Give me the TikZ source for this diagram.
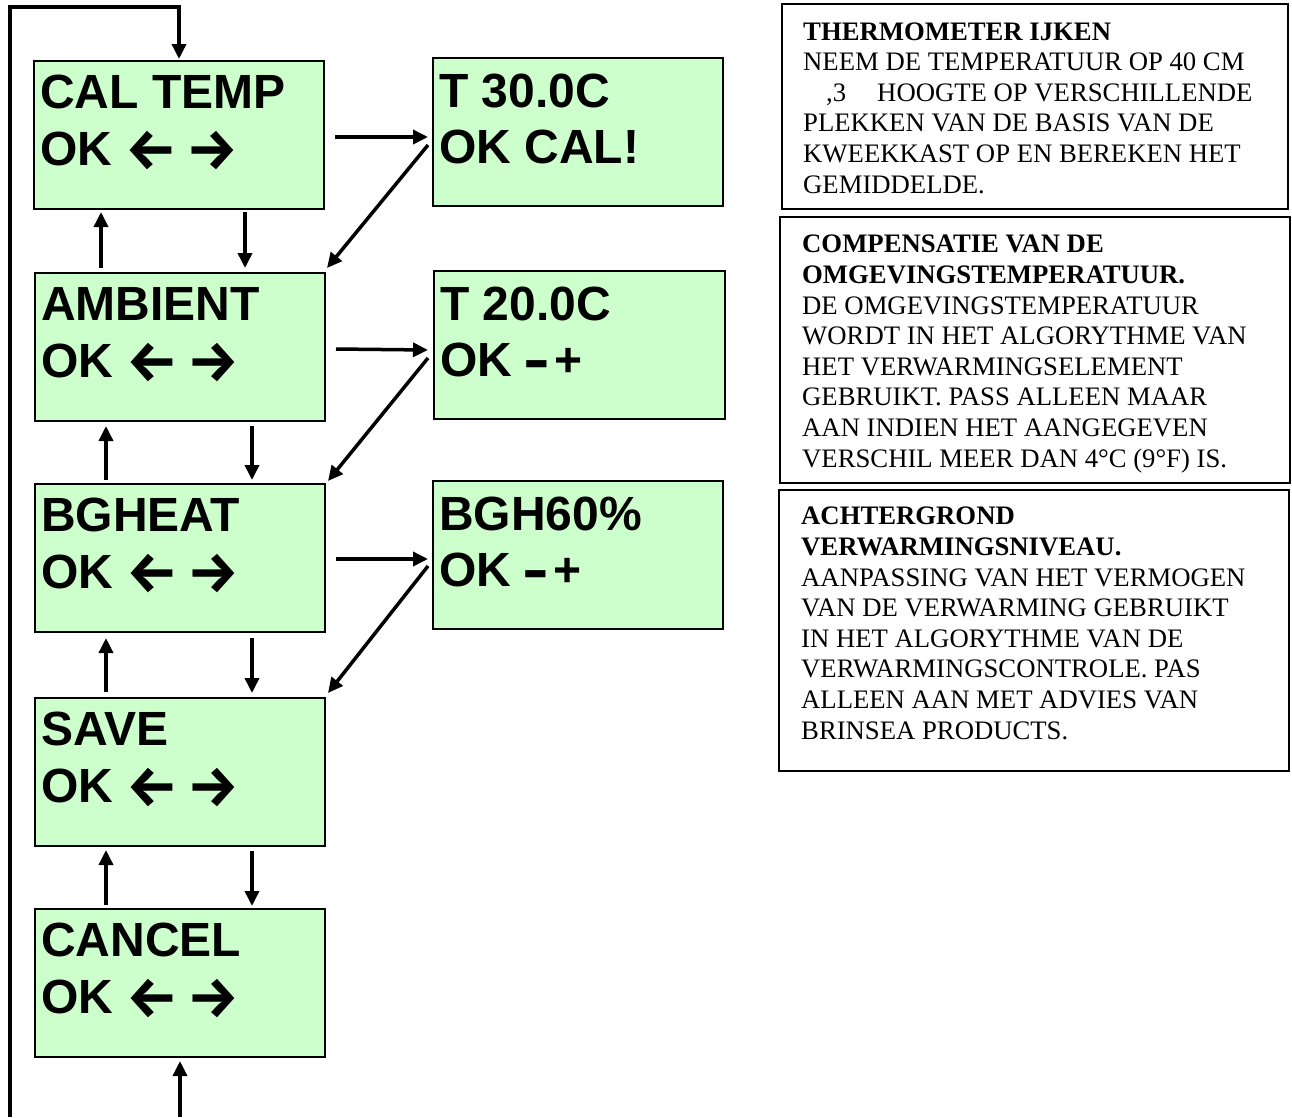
\documentclass[tikz,border=0pt]{standalone}
\usepackage{fontspec}
\usepackage{graphicx}
\setmainfont{Liberation Serif}
\newfontfamily\lcdfont{Liberation Sans}
\newfontfamily\arrowfont{Fira Sans}
\newcommand{\larr}{\raisebox{-4pt}{\scalebox{1.2}{\arrowfont\bfseries ←}}}
\newcommand{\rarr}{\raisebox{-4pt}{\scalebox{1.2}{\arrowfont\bfseries →}}}
\newcommand{\okarrows}{OK \larr\hspace{9pt}\rarr}
\newcommand{\minusbar}{\raisebox{-7pt}{\scalebox{0.85}[1.5]{–}}}
\usetikzlibrary{arrows.meta,calc}
\definecolor{lcdgreen}{RGB}{204,255,204}
\tikzset{
  lcdbox/.style={draw=black, line width=1.6pt, fill=lcdgreen, anchor=north west,
    minimum width=290pt, minimum height=148pt, inner sep=0pt, outer sep=0pt},
  lcdline/.style={anchor=base west, inner sep=0pt,
    font=\lcdfont\bfseries\fontsize{48}{56}\selectfont},
  infobox/.style={draw=black, line width=1.6pt, anchor=north west, inner sep=0pt, outer sep=0pt},
  infotext/.style={anchor=north west, inner sep=0pt, align=left,
    font=\fontsize{26.7}{30.6}\selectfont},
  flow/.style={line width=3.5pt, -{Triangle[length=15pt,width=14pt]}},
}
\begin{document}
\begin{tikzpicture}[x=1pt,y=-1pt]
\useasboundingbox (0,0) rectangle (1292,1117);
\fill[white] (0,0) rectangle (1292,1117);

% LCD screens, left column
\node[lcdbox] (caltemp) at (34,61) {};
\node[lcdbox] (ambient) at (35,273) {};
\node[lcdbox] (bgheat) at (35,484) {};
\node[lcdbox] (save) at (35,698) {};
\node[lcdbox] (cancel) at (35,909) {};
% LCD screens, right column
\node[lcdbox] (t30) at (433,58) {};
\node[lcdbox, minimum width=291pt] (t20) at (434,271) {};
\node[lcdbox] (bgh) at (433,481) {};

% LCD texts
\node[lcdline] (caltemp-a) at ($(caltemp.north west)+(6,47)$) {CAL TEMP};
\node[lcdline] (caltemp-b) at ($(caltemp.north west)+(6,104)$) {\okarrows};
\node[lcdline] (ambient-a) at ($(ambient.north west)+(6,47)$) {AMBIENT};
\node[lcdline] (ambient-b) at ($(ambient.north west)+(6,104)$) {\okarrows};
\node[lcdline] (bgheat-a) at ($(bgheat.north west)+(6,47)$) {BGHEAT};
\node[lcdline] (bgheat-b) at ($(bgheat.north west)+(6,104)$) {\okarrows};
\node[lcdline] (save-a) at ($(save.north west)+(6,47)$) {SAVE};
\node[lcdline] (save-b) at ($(save.north west)+(6,104)$) {\okarrows};
\node[lcdline] (cancel-a) at ($(cancel.north west)+(6,47)$) {CANCEL};
\node[lcdline] (cancel-b) at ($(cancel.north west)+(6,104)$) {\okarrows};
\node[lcdline] (t30-a) at ($(t30.north west)+(6,49)$) {T 30.0C};
\node[lcdline] (t30-b) at ($(t30.north west)+(6,105)$) {OK CAL!};
\node[lcdline] (t20-a) at ($(t20.north west)+(6,49)$) {T 20.0C};
\node[lcdline] (t20-b) at ($(t20.north west)+(6,105)$) {OK \minusbar\hspace{6pt}+};
\node[lcdline] (bgh-a) at ($(bgh.north west)+(6,49)$) {BGH60\%};
\node[lcdline] (bgh-b) at ($(bgh.north west)+(6,105)$) {OK \minusbar\hspace{6pt}+};

% info boxes
\node[infobox, minimum width=506pt, minimum height=205pt] (info1) at (782,4) {};
\node[infobox, minimum width=510pt, minimum height=266pt] (info2) at (780,217) {};
\node[infobox, minimum width=510pt, minimum height=281pt] (info3) at (779,490) {};

\node[infotext] (info1-text) at (803,22.3) {\textbf{THERMOMETER IJKEN}\\
NEEM DE TEMPERATUUR OP 40 CM\\
\hspace*{23pt},3\hspace*{31pt}HOOGTE OP VERSCHILLENDE\\
PLEKKEN VAN DE BASIS VAN DE\\
KWEEKKAST OP EN BEREKEN HET\\
GEMIDDELDE.};

\node[infotext] (info2-text) at (802,235) {\textbf{COMPENSATIE VAN DE}\\
\textbf{OMGEVINGSTEMPERATUUR.}\\
DE OMGEVINGSTEMPERATUUR\\
WORDT IN HET ALGORYTHME VAN\\
HET VERWARMINGSELEMENT\\
GEBRUIKT. PASS ALLEEN MAAR\\
AAN INDIEN HET AANGEGEVEN\\
VERSCHIL MEER DAN 4°C (9°F) IS.};

\node[infotext] (info3-text) at (801,507) {\textbf{ACHTERGROND}\\
\textbf{VERWARMINGSNIVEAU.}\\
AANPASSING VAN HET VERMOGEN\\
VAN DE VERWARMING GEBRUIKT\\
IN HET ALGORYTHME VAN DE\\
VERWARMINGSCONTROLE. PAS\\
ALLEEN AAN MET ADVIES VAN\\
BRINSEA PRODUCTS.};

% horizontal arrows to the setting screens
\draw[flow] ($(caltemp.east)+(11,2)$) -- ($(t30.west)+(-5,5)$);
\draw[flow] ($(ambient.east)+(11,2)$) -- ($(t20.west)+(-6,5)$);
\draw[flow] ($(bgheat.east)+(11,1)$) -- ($(bgh.west)+(-5,4)$);
% diagonal return arrows
\draw[flow] ($(t30.west)+(-5,13)$) -- ($(ambient.north east)+(2,-5)$);
\draw[flow] ($(t20.west)+(-6,13)$) -- ($(bgheat.north east)+(3,-3)$);
\draw[flow] ($(bgh.west)+(-5,11)$) -- ($(save.north east)+(3,-5)$);

% up / down arrows between menu screens
\draw[flow] ($(ambient.north west)+(66,-5)$) -- ($(caltemp.south west)+(67,3)$);
\draw[flow] ($(caltemp.south west)+(211,3)$) -- ($(ambient.north west)+(210,-5)$);
\draw[flow] ($(bgheat.north west)+(71,-4)$) -- ($(ambient.south west)+(71,5)$);
\draw[flow] ($(ambient.south west)+(217,5)$) -- ($(bgheat.north west)+(217,-4)$);
\draw[flow] ($(save.north west)+(71,-6)$) -- ($(bgheat.south west)+(71,6)$);
\draw[flow] ($(bgheat.south west)+(217,6)$) -- ($(save.north west)+(217,-5)$);
\draw[flow] ($(cancel.north west)+(71,-4)$) -- ($(save.south west)+(71,4)$);
\draw[flow] ($(save.south west)+(217,5)$) -- ($(cancel.north west)+(217,-3)$);

% loop back from bottom to top
\coordinate (loopstart) at (10,1117);
\coordinate (loopend) at (180,1117);
\draw[flow] (loopstart) |- ($(caltemp.north)+(0,-54)$) -- ($(caltemp.north)+(0,-2)$);
\draw[flow] (loopend) -- ($(cancel.south)+(0,4)$);
\end{tikzpicture}
\end{document}
